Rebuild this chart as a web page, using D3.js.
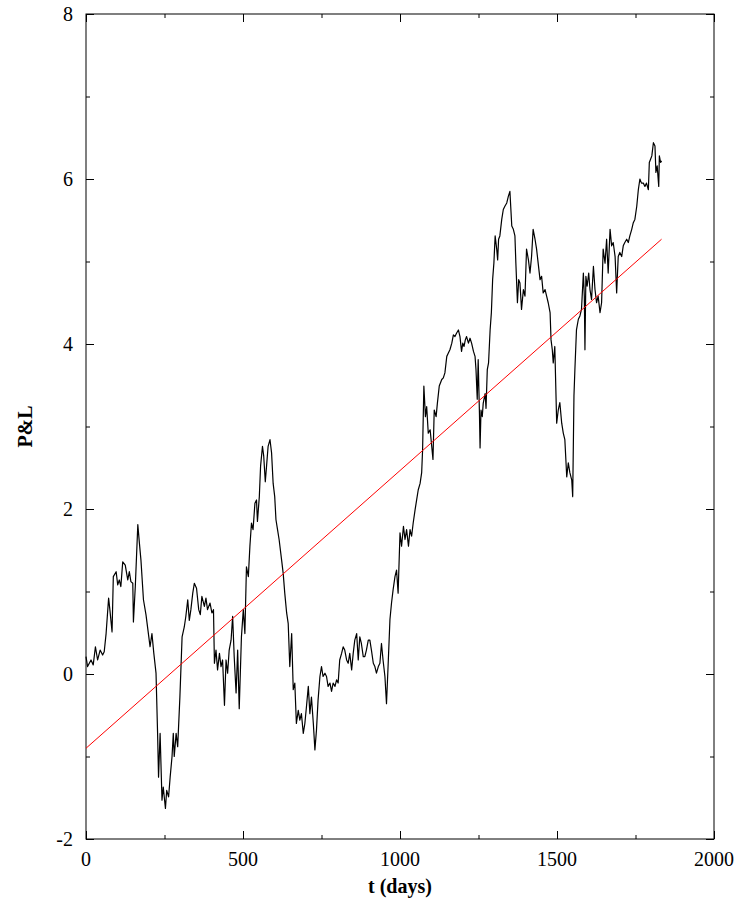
<!DOCTYPE html>
<html>
<head>
<meta charset="utf-8">
<script src="https://cdn.jsdelivr.net/npm/d3@7"></script>
<style>
  body { margin: 0; background: #fff; }
  text { font-family: "Liberation Serif", "Times New Roman", serif; }
</style>
</head>
<body>
<svg id="chart" width="740" height="907"></svg>
<script>
// days and P&L
const tDays = [0,5,16,23,30,37,45,53,58,64,72,76,83,87,96,101,106,111,117,125,133,138,143,149,151,157,165,170,175,183,191,200,204,210,216,223,228,231,236,242,246,253,257,263,268,274,278,281,287,292,299,306,313,318,324,329,334,340,345,352,359,364,369,377,382,387,395,401,406,409,414,419,425,430,435,441,446,451,456,462,467,472,478,483,488,
  495,501,506,511,517,522,527,532,538,543,546,552,556,562,566,571,575,580,586,591,596,601,605,610,615,623,628,633,639,644,649,655,660,665,670,676,681,686,692,697,702,708,713,718,724,729,734,739,745,750,755,761,766,771,777,782,787,793,798,803,808,814,819,824,830,835,840,846,851,856,862,867,872,877,883,888,893,899,904,909,915,920,925,931,936,941,946,952,957,962,968,973,978,984,989,994,
  1000,1005,1011,1016,1021,1027,1032,1037,1042,1048,1053,1058,1064,1069,1072,1076,1081,1085,1090,1096,1101,1105,1109,1115,1119,1125,1133,1138,1143,1149,1154,1159,1165,1170,1175,1180,1186,1191,1196,1200,1204,1208,1212,1218,1223,1228,1234,1239,1242,1246,1249,1253,1255,1258,1262,1265,1271,1274,1278,1282,1287,1291,1295,1299,1303,1308,1311,1314,1318,1324,1329,1334,1340,1345,1350,1356,1361,1366,1369,1374,1378,1382,
  1387,1393,1398,1403,1409,1414,1419,1424,1430,1435,1440,1446,1451,1456,1462,1467,1472,1478,1481,1485,1488,1493,1499,1504,1509,1515,1520,1525,1531,1536,1541,1547,1550,1554,1557,1562,1568,1573,1578,1584,1587,1589,1592,1596,1601,1605,1610,1616,1621,1626,1631,1637,1642,1647,1653,1658,1663,1669,1674,1679,1685,1690,1695,1700,1706,1711,1716,1722,1727,1732,1738,1743,1748,1754,1759,1764,1769,1775,1780,1785,1791,1794,1798,1802,1807,1812,1815,1819,1824,1826,1830,1833];

const pnl = [0.21,0.09,0.17,0.11,0.33,0.17,0.29,0.23,0.27,0.49,0.92,0.78,0.51,1.18,1.24,1.08,1.14,1.06,1.36,1.32,1.14,1.24,1.12,1.10,0.63,1.06,1.81,1.59,1.38,0.90,0.72,0.45,0.33,0.49,0.25,0.01,-0.72,-1.25,-0.72,-1.53,-1.37,-1.63,-1.41,-1.49,-1.25,-1.0,-0.72,-1.0,-0.72,-0.88,-0.28,0.45,0.57,0.70,0.90,0.65,0.78,0.98,1.10,1.04,0.78,0.72,0.94,0.82,0.92,0.78,0.86,0.74,0.78,0.13,0.29,0.05,0.25,0.09,0.17,-0.38,0.17,0.01,0.29,0.41,0.70,0.21,-0.23,0.29,-0.42,
  0.45,0.78,0.49,1.30,1.18,1.55,1.83,1.75,2.07,2.11,1.85,2.15,2.52,2.76,2.64,2.33,2.52,2.76,2.84,2.68,2.31,2.15,1.87,1.75,1.63,1.38,1.22,0.98,0.74,0.61,0.09,0.49,-0.19,-0.11,-0.60,-0.44,-0.56,-0.48,-0.72,-0.60,-0.40,-0.15,-0.48,-0.28,-0.60,-0.92,-0.68,-0.32,-0.03,0.09,-0.03,0.01,-0.03,-0.15,-0.11,-0.21,-0.11,-0.15,-0.07,-0.11,0.17,0.25,0.33,0.29,0.17,0.13,0.25,0.05,0.25,0.41,0.49,0.17,0.45,0.37,0.21,0.21,0.29,0.41,0.41,0.29,0.13,0.09,0.01,0.09,0.13,0.37,0.17,-0.03,-0.36,0.09,0.66,0.86,1.02,1.18,1.26,0.98,
  1.71,1.55,1.79,1.63,1.75,1.55,1.75,1.67,1.83,1.99,2.11,2.23,2.31,2.44,2.72,3.49,3.12,3.24,2.92,2.96,2.76,2.60,3.20,3.12,3.28,3.49,3.57,3.59,3.65,3.85,3.89,3.93,4.01,4.11,4.09,4.13,4.17,4.09,3.91,4.01,3.97,4.05,4.09,4.01,4.07,4.01,3.91,3.85,3.69,3.33,3.81,3.16,2.74,3.20,3.12,3.28,3.40,3.22,3.69,3.77,4.17,4.38,4.78,4.98,5.31,5.15,5.02,5.27,5.31,5.51,5.63,5.67,5.71,5.79,5.85,5.43,5.39,5.31,4.98,4.50,4.78,4.74,
  4.42,4.66,4.58,5.15,5.02,4.86,5.06,5.39,5.27,5.15,4.98,4.78,4.82,4.62,4.66,4.58,4.50,4.38,4.05,3.93,3.77,3.97,3.04,3.20,3.29,3.04,2.92,2.84,2.39,2.56,2.44,2.35,2.15,3.37,3.69,4.17,4.30,4.34,4.42,4.86,4.58,3.93,4.82,4.70,4.86,4.66,4.54,4.94,4.66,4.50,4.58,4.38,4.50,5.15,4.98,5.27,4.86,5.39,5.19,5.23,5.06,4.62,5.06,5.11,5.06,5.19,5.23,5.27,5.23,5.31,5.39,5.47,5.51,5.67,5.87,6.00,5.95,5.95,5.91,5.95,5.87,6.20,6.24,6.28,6.44,6.40,6.08,6.16,5.91,6.28,6.20,6.22];

// linear trend endpoints [day, P&L]
const trendDays = [0, 1833];
const trendPnl = [-0.9, 5.27];

const xTicks = [0, 500, 1000, 1500, 2000];
const xMinor = [250, 750, 1250, 1750];
const yTicks = [-2, 0, 2, 4, 6, 8];
const yMinor = [-1, 1, 3, 5, 7];

const margin = { left: 86, right: 26, top: 14, bottom: 68 };
const width = 740, height = 907;

const svg = d3.select("#chart");

const x = d3.scaleLinear().domain([0, 2000]).range([margin.left, width - margin.right]);
const y = d3.scaleLinear().domain([-2, 8]).range([height - margin.bottom, margin.top]);

// ticks on all four sides (gnuplot style)
function tickAxis(axisFn, scale, major, minor, tr) {
    const g = svg.append("g").attr("transform", tr);
    g.call(axisFn(scale).tickValues(major).tickSize(8).tickFormat(""));
    const gm = svg.append("g").attr("transform", tr);
    gm.call(axisFn(scale).tickValues(minor).tickSize(4).tickFormat(""));
    [g, gm].forEach(s => {
        s.select(".domain").remove();
        s.selectAll("line").attr("stroke", "#000").attr("stroke-width", 1);
    });
}
// axisTop placed at bottom edge gives inward ticks
tickAxis(d3.axisTop, x, xTicks, xMinor, `translate(0,${y(-2)})`);
tickAxis(d3.axisBottom, x, xTicks, xMinor, `translate(0,${y(8)})`);
tickAxis(d3.axisRight, y, yTicks, yMinor, `translate(${x(0)},0)`);
tickAxis(d3.axisLeft, y, yTicks, yMinor, `translate(${x(2000)},0)`);

// frame
svg.append("rect")
    .attr("x", x(0)).attr("y", y(8))
    .attr("width", x(2000) - x(0)).attr("height", y(-2) - y(8))
    .attr("fill", "none").attr("stroke", "#000").attr("stroke-width", 1);

// tick labels
svg.selectAll(".xlab").data(xTicks).enter().append("text")
    .attr("x", d => x(d)).attr("y", y(-2) + 27)
    .attr("text-anchor", "middle").attr("font-size", 20)
    .text(d => d);
svg.selectAll(".ylab").data(yTicks).enter().append("text")
    .attr("x", x(0) - 13).attr("y", d => y(d) + 7)
    .attr("text-anchor", "end").attr("font-size", 20)
    .text(d => d);

// axis titles
svg.append("text")
    .attr("x", (x(0) + x(2000)) / 2).attr("y", 893)
    .attr("text-anchor", "middle").attr("font-size", 20).attr("font-weight", "bold")
    .text("t (days)");
svg.append("text")
    .attr("transform", `translate(32,${(y(-2) + y(8)) / 2}) rotate(-90)`)
    .attr("text-anchor", "middle").attr("font-size", 20).attr("font-weight", "bold")
    .text("P&L");

// P&L series
const series = tDays.map((d, i) => [d, pnl[i]]);
svg.append("path")
    .datum(series)
    .attr("fill", "none").attr("stroke", "#000").attr("stroke-width", 1.2)
    .attr("stroke-linejoin", "round")
    .attr("d", d3.line().x(d => x(d[0])).y(d => y(d[1])));

// trend line
svg.append("path")
    .datum(trendDays.map((d, i) => [d, trendPnl[i]]))
    .attr("fill", "none").attr("stroke", "#ff0000").attr("stroke-width", 1)
    .attr("d", d3.line().x(d => x(d[0])).y(d => y(d[1])));

console.log("points:", tDays.length, pnl.length);
</script>
</body>
</html>
